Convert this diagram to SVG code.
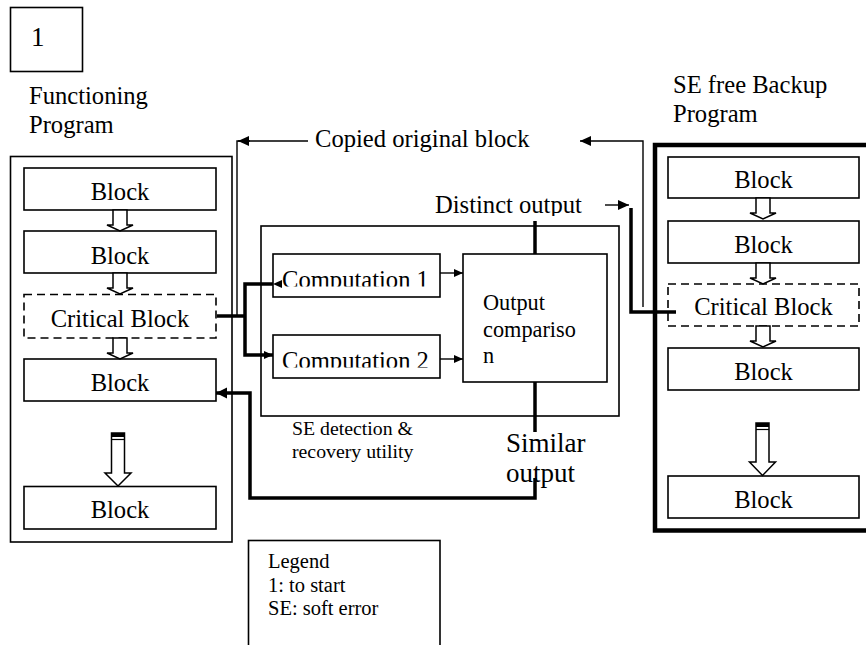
<svg xmlns="http://www.w3.org/2000/svg" width="866" height="645" viewBox="0 0 866 645">
  <style>
    text { font-family: "Liberation Serif", "Times New Roman", serif; fill: #000; }
    .lbl { font-size: 24.6px; }
    .mid { text-anchor: middle; }
    .leg { font-size: 20.5px; }
    .box { fill: #fff; stroke: #000; stroke-width: 1.6; }
    .dash { fill: #fff; stroke: #000; stroke-width: 1.6; stroke-dasharray: 8 5; }
    .hollow { fill: #fff; stroke: #000; stroke-width: 1.5; stroke-linejoin: miter; }
    .thin { fill: none; stroke: #000; stroke-width: 1.4; }
    .thick { fill: none; stroke: #000; stroke-width: 3.5; }
  </style>
  <defs>
    <marker id="headSmall" markerUnits="userSpaceOnUse" markerWidth="12" markerHeight="10" refX="11" refY="5" orient="auto">
      <path d="M0,0 L11,5 L0,10 Z" fill="#000"/>
    </marker>
    <marker id="headMid" markerUnits="userSpaceOnUse" markerWidth="10" markerHeight="10" refX="9" refY="5" orient="auto">
      <path d="M0,1 L9,5 L0,9 Z" fill="#000"/>
    </marker>
    <marker id="headBig" markerUnits="userSpaceOnUse" markerWidth="12" markerHeight="12" refX="11" refY="6" orient="auto">
      <path d="M0,0.5 L11,6 L0,11.5 Z" fill="#000"/>
    </marker>
    <clipPath id="clipC1"><rect x="270" y="250" width="175" height="36.5"/></clipPath>
    <clipPath id="clipC2"><rect x="270" y="330" width="175" height="37.5"/></clipPath>
    <clipPath id="clipDistinct"><rect x="420" y="185" width="180" height="31"/></clipPath>
    <!-- small hollow step arrow between consecutive blocks -->
    <polygon id="stepArrow" points="-7,0 7,0 7,15 13,15 0,21 -13,15 -7,15"/>
  </defs>

  <!-- start marker -->
  <g id="start">
    <rect class="box" x="10.5" y="7.5" width="72" height="64"/>
    <text x="31" y="46" style="font-size:27px">1</text>
  </g>

  <!-- functioning program -->
  <g id="functioning-program">
    <text class="lbl" x="29" y="104">Functioning</text>
    <text class="lbl" x="29" y="133">Program</text>
    <rect class="box" x="10.5" y="156.5" width="221.5" height="385.5"/>
    <g id="fp-block1">
      <rect class="box" x="24" y="168" width="192" height="42"/>
      <text class="lbl mid" x="120" y="200">Block</text>
    </g>
    <g id="fp-block2">
      <rect class="box" x="24" y="231" width="192" height="42"/>
      <text class="lbl mid" x="120" y="264">Block</text>
    </g>
    <g id="fp-critical">
      <rect class="dash" x="24" y="294.5" width="192" height="43.5"/>
      <text class="lbl mid" x="120" y="327">Critical Block</text>
    </g>
    <g id="fp-block4">
      <rect class="box" x="24" y="359" width="192" height="42"/>
      <text class="lbl mid" x="120" y="391">Block</text>
    </g>
    <g id="fp-block5">
      <rect class="box" x="24" y="486.5" width="192" height="42.5"/>
      <text class="lbl mid" x="120" y="518">Block</text>
    </g>
    <use href="#stepArrow" class="hollow" x="120" y="210"/>
    <use href="#stepArrow" class="hollow" x="120" y="273"/>
    <use href="#stepArrow" class="hollow" x="120" y="338"/>
    <!-- long skip arrow -->
    <polygon class="hollow" points="111.5,433 124.5,433 124.5,473 131,473 118,486 105,473 111.5,473"/>
    <rect x="111.5" y="433" width="13" height="4" fill="#000"/>
    <line x1="111.5" y1="439.5" x2="124.5" y2="439.5" stroke="#000" stroke-width="1.2"/>
  </g>

  <!-- SE detection and recovery utility -->
  <g id="se-utility">
    <rect class="box" x="261" y="226" width="358" height="190"/>
    <text x="292" y="435" style="font-size:19.8px">SE detection &amp;</text>
    <text x="292" y="458" style="font-size:19.8px">recovery utility</text>
    <g id="computation1">
      <rect class="box" x="273" y="254" width="167" height="43"/>
      <text class="lbl" x="282" y="288" clip-path="url(#clipC1)">Computation 1</text>
    </g>
    <g id="computation2">
      <rect class="box" x="273" y="335" width="167" height="43"/>
      <text class="lbl" x="282" y="369" clip-path="url(#clipC2)">Computation 2</text>
    </g>
    <g id="output-comparison">
      <rect class="box" x="463" y="254" width="144" height="128"/>
      <text x="483" y="310" style="font-size:22.3px">Output</text>
      <text x="483" y="337" style="font-size:22.3px">compariso</text>
      <text x="483" y="363" style="font-size:22.3px">n</text>
    </g>
  </g>

  <!-- SE free backup program -->
  <g id="backup-program">
    <text class="lbl" x="673" y="93">SE free Backup</text>
    <text class="lbl" x="673" y="122">Program</text>
    <rect x="655" y="145" width="220" height="385.5" fill="none" stroke="#000" stroke-width="4.5"/>
    <g id="bp-block1">
      <rect class="box" x="668" y="157" width="191" height="41"/>
      <text class="lbl mid" x="763.5" y="188">Block</text>
    </g>
    <g id="bp-block2">
      <rect class="box" x="668" y="221" width="191" height="42"/>
      <text class="lbl mid" x="763.5" y="253">Block</text>
    </g>
    <g id="bp-critical">
      <rect class="dash" x="668" y="284" width="191" height="42"/>
      <text class="lbl mid" x="763.5" y="315">Critical Block</text>
    </g>
    <g id="bp-block4">
      <rect class="box" x="668" y="348" width="191" height="42"/>
      <text class="lbl mid" x="763.5" y="380">Block</text>
    </g>
    <g id="bp-block5">
      <rect class="box" x="668" y="476" width="191" height="42"/>
      <text class="lbl mid" x="763.5" y="508">Block</text>
    </g>
    <use href="#stepArrow" class="hollow" x="763" y="198"/>
    <use href="#stepArrow" class="hollow" x="763" y="263"/>
    <use href="#stepArrow" class="hollow" x="763" y="326"/>
    <polygon class="hollow" points="756,423 769,423 769,462 775.5,462 762.5,475.5 749.5,462 756,462"/>
    <rect x="756" y="423" width="13" height="4" fill="#000"/>
    <line x1="756" y1="429.5" x2="769" y2="429.5" stroke="#000" stroke-width="1.2"/>
  </g>

  <!-- legend -->
  <g id="legend">
    <rect class="box" x="248.5" y="540.5" width="191.5" height="120"/>
    <text class="leg" x="268" y="568">Legend</text>
    <text class="leg" x="268" y="591.5">1: to start</text>
    <text class="leg" x="268" y="615">SE: soft error</text>
  </g>

  <!-- connectors -->
  <g id="connectors">
    <!-- copied original block, left -->
    <polyline class="thin" points="237,316 237,141 308,141"/>
    <line class="thin" x1="250" y1="141" x2="238" y2="141" marker-end="url(#headSmall)"/>
    <text class="lbl" x="315" y="147">Copied original block</text>
    <!-- copied original block, right -->
    <polyline class="thin" points="643,307 643,141 580,141" marker-end="url(#headSmall)"/>
    <!-- critical block fan-out to the two computations -->
    <polyline class="thick" points="217,316 245,316"/>
    <polyline class="thick" points="273,284 245,284 245,355 273,355" marker-start="url(#headMid)" marker-end="url(#headMid)"/>
    <!-- computations into comparison -->
    <line class="thin" x1="440" y1="273" x2="463" y2="273" marker-end="url(#headMid)"/>
    <line class="thin" x1="440" y1="359" x2="463" y2="359" marker-end="url(#headMid)"/>
    <!-- distinct output route to the backup critical block -->
    <line class="thick" x1="535" y1="221" x2="535" y2="254"/>
    <text class="lbl" x="435" y="213" clip-path="url(#clipDistinct)">Distinct output</text>
    <line class="thin" x1="605" y1="205" x2="629" y2="205" marker-end="url(#headSmall)"/>
    <polyline class="thick" points="631,208 631,312 676,312"/>
    <!-- similar output route back to the following block -->
    <line class="thick" x1="535" y1="382" x2="535" y2="432"/>
    <text x="506" y="452" style="font-size:27px">Similar</text>
    <text x="506" y="482" style="font-size:27px">output</text>
    <polyline class="thick" points="535,478 535,498 250,498 250,393 216,393" marker-end="url(#headBig)"/>
  </g>
</svg>
